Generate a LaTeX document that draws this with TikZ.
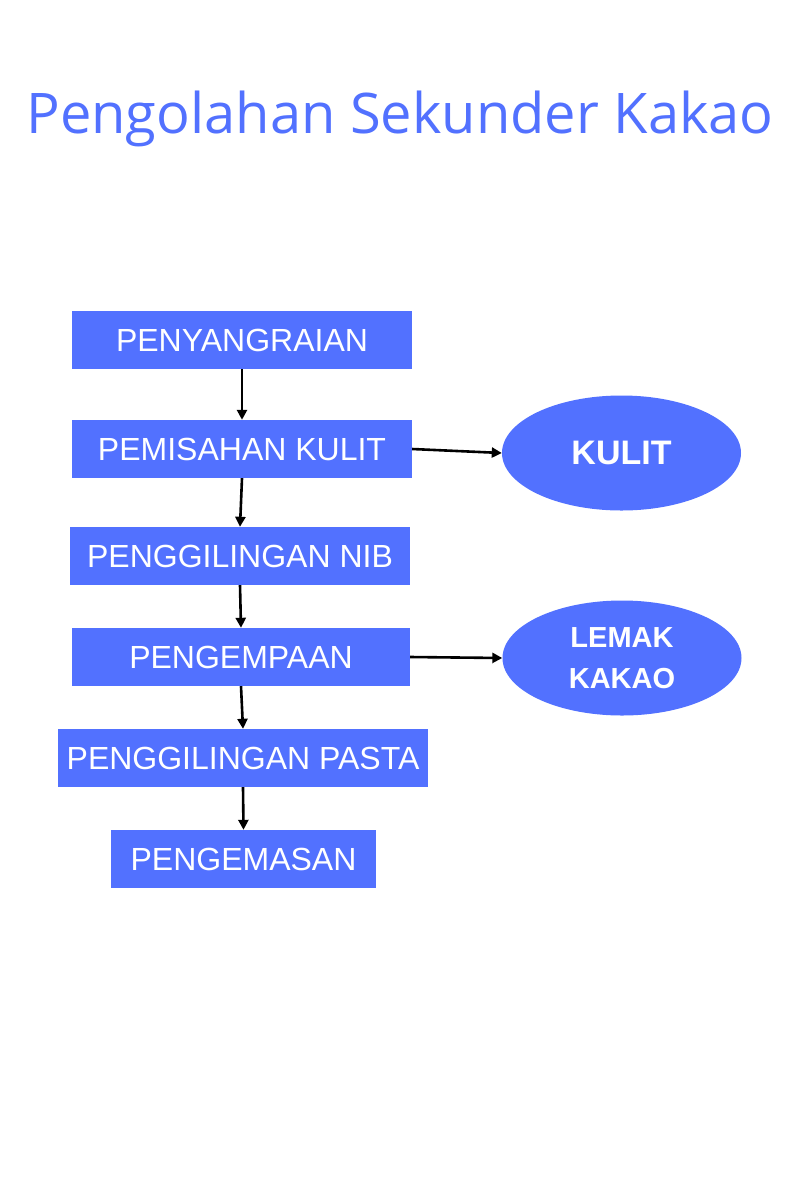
\documentclass[tikz,border=0pt]{standalone}
\usepackage{fontspec}
\setmainfont{Liberation Sans}
\newfontfamily\titlefont{Open Sans}
\usetikzlibrary{shapes.geometric,arrows.meta}
\definecolor{cblue}{RGB}{82,113,255}
\tikzset{
  stepbox/.style={fill=cblue, draw=none, inner sep=0pt, text=white,
    font=\fontsize{32}{36}\selectfont},
  outoval/.style={ellipse, fill=cblue, draw=none, inner sep=0pt, text=white,
    minimum width=239pt, minimum height=115pt, align=center},
  flow/.style={line width=2.6pt, -{Triangle[length=10pt,width=10pt]}}
}
\begin{document}
\begin{tikzpicture}[x=1pt,y=-1pt]
\useasboundingbox (0,0) rectangle (800,1200);
\fill[white] (0,0) rectangle (800,1200);
\node[text=cblue, font=\titlefont\fontsize{56}{60}\selectfont, anchor=base] (title) at (400,133) {Pengolahan Sekunder Kakao};
\node[stepbox, minimum width=340pt, minimum height=58pt] (b1) at (242,340) {\raisebox{-1pt}{PENYANGRAIAN}};
\node[stepbox, minimum width=340pt, minimum height=58pt] (b2) at (242,449) {\raisebox{-1pt}{PEMISAHAN KULIT}};
\node[stepbox, minimum width=340pt, minimum height=58pt] (b3) at (240,556) {\raisebox{-1pt}{PENGGILINGAN NIB}};
\node[stepbox, minimum width=338pt, minimum height=58pt] (b4) at (241,657) {\raisebox{-1pt}{PENGEMPAAN}};
\node[stepbox, minimum width=370pt, minimum height=58pt] (b5) at (243,758) {\raisebox{-1pt}{PENGGILINGAN PASTA}};
\node[stepbox, minimum width=265pt, minimum height=58pt] (b6) at (243.5,859) {\raisebox{-1pt}{PENGEMASAN}};
\node[outoval, font=\bfseries\fontsize{34}{40}\selectfont] (e1) at (621.5,453) {KULIT};
\node[outoval, font=\bfseries\fontsize{29}{41}\selectfont] (e2) at (622,658) {LEMAK\\KAKAO};
\draw[flow] (b1.south) -- (b2.north);
\draw[flow] (b2.south) -- (b3.north);
\draw[flow] (b3.south) -- (b4.north);
\draw[flow] (b4.south) -- (b5.north);
\draw[flow] (b5.south) -- (b6.north);
\draw[flow] (b2.east) -- (e1.west);
\draw[flow] (b4.east) -- (e2.west);
\end{tikzpicture}
\end{document}
